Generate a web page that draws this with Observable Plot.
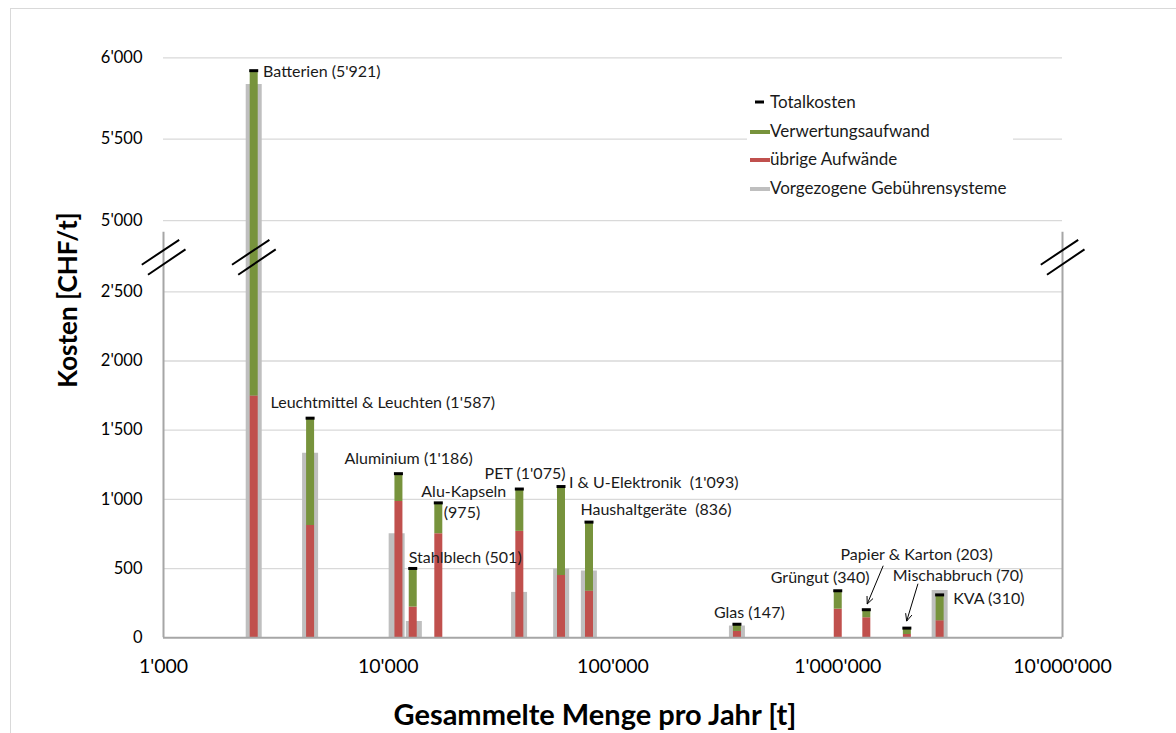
<!DOCTYPE html>
<html><head><meta charset="utf-8">
<script src="https://cdn.jsdelivr.net/npm/d3@7"></script>
<script src="https://cdn.jsdelivr.net/npm/@observablehq/plot@0.6"></script>
<style>
body{margin:0;background:#fff;font-family:Lato,"Open Sans",sans-serif;}
#wrap{position:relative;width:1176px;height:733px;overflow:hidden;background:#fff;}
#frame{position:absolute;left:10px;top:8px;width:1200px;height:800px;border:1px solid #d9d9d9;}
#chart{position:absolute;left:0;top:0;}
.legend{position:absolute;left:747px;top:88px;width:266px;height:112px;background:#fff;font-size:17px;color:#1a1a1a;}
.li{position:absolute;left:23px;height:20px;line-height:20px;white-space:nowrap;transform:translateY(-50%);}
.sw{position:absolute;left:3px;width:20px;height:4px;transform:translateY(-50%);}
.title{position:absolute;font-weight:bold;color:#000;white-space:nowrap;}
</style></head>
<body>
<div id="wrap">
  <div id="frame"></div>
  <div id="chart"></div>
  <div class="legend" id="legend"></div>
  <div class="title" id="ytitle" style="left:67px;top:300px;font-size:26px;transform:translate(-50%,-50%) rotate(-90deg);">Kosten [CHF/t]</div>
  <div class="title" id="xtitle" style="left:595px;top:713px;font-size:29px;transform:translate(-50%,-50%);">Gesammelte Menge pro Jahr [t]</div>
</div>
<script>
// ---- data ----
const names = ["Batterien","Leuchtmittel & Leuchten","Aluminium","Stahlblech","Alu-Kapseln","PET","I & U-Elektronik","Haushaltgeräte","Glas","Grüngut","Papier & Karton","Mischabbruch","KVA"];
const menge = [2520, 4490, 11100, 12850, 16700, 38300, 58700, 78200, 356000, 1000000, 1340000, 2030000, 2840000];
const uebrigeAufwaende = [1747, 812, 985, 222, 752, 769, 450, 337, 46, 207, 145, 24, 123];
const verwertungsaufwand = [4174, 775, 201, 279, 223, 306, 643, 499, 52, 133, 58, 46, 187];
const gebuehrensysteme = [5836, 1333, 752, 118, 0, 328, 497, 482, 85, 0, 0, 0, 342];
const gebuehrMenge = [2520, 4490, 10900, 13000, null, 38200, 58800, 78100, 356000, null, null, null, 2840000];
const labels = ["Batterien (5'921)","Leuchtmittel & Leuchten (1'587)","Aluminium (1'186)","Stahlblech (501)","Alu-Kapseln\n(975)","PET (1'075)","I & U-Elektronik  (1'093)","Haushaltgeräte  (836)","Glas (147)","Grüngut (340)","Papier & Karton (203)","Mischabbruch (70)","KVA (310)"];
const xTicks = [1000, 10000, 100000, 1000000, 10000000];
const yTicks = [0, 500, 1000, 1500, 2000, 2500, 5000, 5500, 6000];
const legendItems = ["Totalkosten","Verwertungsaufwand","übrige Aufwände","Vorgezogene Gebührensysteme"];

// ---- broken y axis: lower segment 0..lowerTop, upper segment upperBottom..6000 ----
const lowerTop = 2930, upperBottom = 4928, yMax = 6000, upperStretch = 1.1764, breakValue = 2750;
const T = v => v <= lowerTop ? v : v >= upperBottom ? lowerTop + (v - upperBottom) * upperStretch : lowerTop;
const Tinv = u => u <= lowerTop ? u : upperBottom + (u - lowerTop) / upperStretch;

// ---- styling / layout ----
const C = {green:"#77933c", red:"#c0504d", gray:"#bfbfbf", black:"#000", grid:"#d9d9d9", axis:"#a6a6a6"};
const labelNudge = [
  [[9.4, 1]], [[-39.5, -15]], [[-54, -14.3]], [[-4, -10.6]], [[-17, -11], [5.5, 10.3]],
  [[-34.7, -14.7]], [[8, -3.4]], [[-8.5, -12]], [[-23, -11.6]], [[-67, -12.7]],
  [[-25.8, -55]], [[-14, -52.7]], [[13.5, 4.3]]
];
const arrowNudge = {10: [16.9, -44, 0.9, -5.7], 11: [11.1, -44.4, -0.2, -7]};

const rows = names.map((n, i) => ({
  name: n, x: menge[i], red: uebrigeAufwaende[i],
  total: uebrigeAufwaende[i] + verwertungsaufwand[i],
  gx: gebuehrMenge[i], gray: gebuehrensysteme[i]
}));
const grayRows = rows.filter(d => d.gx != null && d.gray > 0);

const fmt = d => d3.format(",")(d).replace(/,/g, "'");

const markerSymbol = {draw(ctx) { ctx.rect(-4.5, -1.5, 9, 3); }};
const breakSymbol = {draw(ctx) {
  ctx.moveTo(-21.7, 7.5); ctx.lineTo(15.7, -17.4);
  ctx.moveTo(-15.5, 17.5); ctx.lineTo(22, -7.9);
}};
const arrowSymbol = (sx, sy, ex, ey) => ({draw(ctx) {
  ctx.moveTo(sx, sy); ctx.lineTo(ex, ey);
  const a = Math.atan2(ey - sy, ex - sx), L = 8, w = 0.42;
  ctx.moveTo(ex - L * Math.cos(a - w), ey - L * Math.sin(a - w));
  ctx.lineTo(ex, ey);
  ctx.lineTo(ex - L * Math.cos(a + w), ey - L * Math.sin(a + w));
}});

const textMarks = [];
rows.forEach((d, i) => {
  labels[i].split("\n").forEach((line, j) => {
    const [dx, dy] = labelNudge[i][j];
    textMarks.push(Plot.text([d], {x: "x", y: r => T(r.total), text: () => line, dx, dy,
      textAnchor: "start", lineAnchor: "middle", fontSize: 16, fill: "#1a1a1a"}));
  });
});
const arrowMarks = Object.entries(arrowNudge).map(([i, a]) =>
  Plot.dot([rows[+i]], {x: "x", y: r => T(r.total), symbol: arrowSymbol(...a), fill: "none", stroke: "#000", strokeWidth: 1}));

const breaks = [{x: xTicks[0]}, {x: menge[0]}, {x: xTicks[xTicks.length - 1]}];

const plot = Plot.plot({
  width: 1176, height: 733,
  marginLeft: 163, marginRight: 114, marginTop: 57.3, marginBottom: 95.7,
  style: {fontFamily: "Lato, 'Open Sans', sans-serif", color: "#000", background: "transparent"},
  x: {type: "log", domain: [xTicks[0], xTicks[xTicks.length - 1]]},
  y: {type: "linear", domain: [0, T(yMax)]},
  marks: [
    Plot.gridY(yTicks.filter(t => t > 0).map(T), {stroke: C.grid, strokeOpacity: 1, strokeWidth: 1.3}),
    Plot.ruleX(grayRows, {x: "gx", y1: () => 0, y2: r => T(r.gray), stroke: C.gray, strokeWidth: 16}),
    Plot.ruleX(rows, {x: "x", y1: () => 0, y2: r => T(r.red), stroke: C.red, strokeWidth: 8}),
    Plot.ruleX(rows, {x: "x", y1: r => T(r.red), y2: r => T(r.total), stroke: C.green, strokeWidth: 8}),
    Plot.ruleX([xTicks[0], xTicks[xTicks.length - 1]], {y1: 0, y2: lowerTop, stroke: C.axis, strokeWidth: 2}),
    Plot.ruleY([0], {stroke: C.axis, strokeWidth: 2}),
    Plot.dot(rows, {x: "x", y: r => T(r.total), symbol: markerSymbol, fill: C.black, stroke: "none"}),
    ...textMarks,
    ...arrowMarks,
    Plot.dot(breaks, {x: "x", y: () => T(breakValue), symbol: breakSymbol, fill: "none", stroke: "#000", strokeWidth: 2}),
    Plot.axisY(yTicks.map(T), {tickSize: 0, tickPadding: 21, tickFormat: u => fmt(Math.round(Tinv(u))), fontSize: 16.5, label: null}),
    Plot.axisX(xTicks, {tickSize: 0, tickPadding: 21, tickFormat: fmt, fontSize: 19.5, label: null})
  ]
});
document.getElementById("chart").appendChild(plot);

// legend
const lg = document.getElementById("legend");
const rowY = [14, 42.7, 71, 99.7];
const swatch = [null, C.green, C.red, C.gray];
legendItems.forEach((t, i) => {
  const s = document.createElement("div");
  s.className = "sw";
  if (i === 0) {
    s.style.left = "8px"; s.style.width = "9px"; s.style.height = "3px";
    s.style.background = C.black; s.style.top = rowY[i] + "px";
  } else {
    s.style.background = swatch[i]; s.style.top = (rowY[i] + 1) + "px";
  }
  lg.appendChild(s);
  const el = document.createElement("div");
  el.className = "li"; el.textContent = t; el.style.top = rowY[i] + "px";
  lg.appendChild(el);
});
</script>
</body></html>
